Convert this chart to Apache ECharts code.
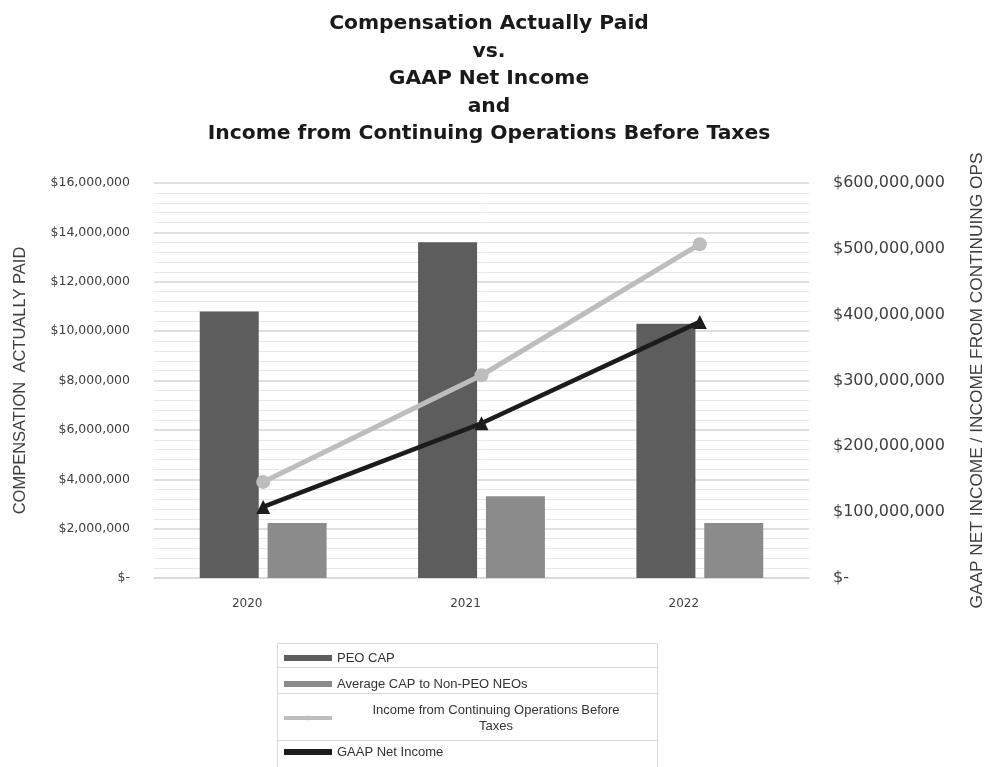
<!DOCTYPE html>
<html>
<head>
<meta charset="utf-8">
<script src="https://cdn.jsdelivr.net/npm/echarts@6/dist/echarts.min.js"></script>
<style>html,body{margin:0;padding:0;background:#fff}#c{width:985px;height:767px}</style>
</head>
<body>
<div id="c"></div>
<script>
const years = ['2020', '2021', '2022'];
const peoCap = [10800000, 13600000, 10300000];
const avgNonPeoCap = [2230000, 3310000, 2230000];
const incomeContOps = [146000000, 308000000, 507000000];
const gaapNetIncome = [108000000, 235000000, 389000000];

const seriesNames = ['PEO CAP', 'Average CAP to Non-PEO NEOs', 'Income from Continuing Operations Before Taxes', 'GAAP Net Income'];

function money(v) {
  if (v === 0) return '$-';
  return '$' + v.toLocaleString('en-US');
}

const chart = echarts.init(document.getElementById('c'));
chart.setOption({
  backgroundColor: '#ffffff',
  animation: false,
  title: {
    text: 'Compensation Actually Paid\nvs.\nGAAP Net Income\nand\nIncome from Continuing Operations Before Taxes',
    left: 484,
    top: 5,
    textAlign: 'center',
    textStyle: { fontFamily: 'DejaVu Sans', fontWeight: 'bold', fontSize: 20.3, lineHeight: 27.5, color: '#1a1a1a' }
  },
  grid: { left: 154, right: 176, top: 183, bottom: 189, outerBoundsMode: 'none', containLabel: false },
  legend: {
    orient: 'vertical',
    left: 282,
    top: 650,
    padding: 0,
    itemWidth: 48,
    itemHeight: 6,
    itemGap: 10,
    data: [
      { name: seriesNames[0], icon: 'rect' },
      { name: seriesNames[1], icon: 'rect' },
      { name: seriesNames[2], lineStyle: { width: 4 }, itemStyle: { color: '#bdbdbd' } },
      { name: seriesNames[3], icon: 'rect', itemStyle: { color: '#1c1c1c' } }
    ],
    formatter: function (n) {
      if (n === seriesNames[2]) return '{a|Income from Continuing Operations Before}\n{a|Taxes}';
      return n;
    },
    textStyle: {
      fontFamily: 'Liberation Sans', fontSize: 13, color: '#333', lineHeight: 16,
      rich: { a: { width: 318, align: 'center', fontFamily: 'Liberation Sans', fontSize: 13, color: '#333', lineHeight: 16 } }
    }
  },
  graphic: [
    { type: 'rect', shape: { x: 277.5, y: 643.5, width: 380, height: 130 }, style: { fill: 'none', stroke: '#d9d9d9', lineWidth: 1 }, silent: true },
    { type: 'line', shape: { x1: 277.5, y1: 667.5, x2: 657.5, y2: 667.5 }, style: { stroke: '#d9d9d9', lineWidth: 1 }, silent: true },
    { type: 'line', shape: { x1: 277.5, y1: 693.5, x2: 657.5, y2: 693.5 }, style: { stroke: '#d9d9d9', lineWidth: 1 }, silent: true },
    { type: 'line', shape: { x1: 277.5, y1: 740.5, x2: 657.5, y2: 740.5 }, style: { stroke: '#d9d9d9', lineWidth: 1 }, silent: true }
  ],
  xAxis: {
    type: 'category',
    data: years,
    axisLine: { show: true, lineStyle: { color: '#d9d9d9', width: 1.5 } },
    axisTick: { show: false },
    axisLabel: { margin: 20, padding: [0, 32, 0, 0], fontFamily: 'DejaVu Sans', fontSize: 12, color: '#404040' }
  },
  yAxis: [
    {
      type: 'value',
      min: 0, max: 16000000, interval: 2000000,
      name: 'COMPENSATION  ACTUALLY PAID',
      nameLocation: 'middle',
      nameGap: 125,
      nameTextStyle: { fontFamily: 'Liberation Sans', fontSize: 16.5, color: '#404040' },
      axisLine: { show: false },
      axisTick: { show: false },
      axisLabel: { margin: 24, formatter: money, fontFamily: 'DejaVu Sans', fontSize: 12.5, color: '#404040' },
      splitLine: { show: true, lineStyle: { color: '#d4d4d4', width: 1.5 } },
      minorTick: { show: false, splitNumber: 5 },
      minorSplitLine: { show: true, lineStyle: { color: '#e8e8e8', width: 1 } }
    },
    {
      type: 'value',
      min: 0, max: 600000000, interval: 100000000,
      name: 'GAAP NET INCOME / INCOME FROM CONTINUING OPS',
      nameLocation: 'middle',
      nameGap: 160,
      nameTextStyle: { fontFamily: 'Liberation Sans', fontSize: 17.3, color: '#404040' },
      axisLine: { show: false },
      axisTick: { show: false },
      axisLabel: { margin: 24, formatter: money, fontFamily: 'DejaVu Sans', fontSize: 16, color: '#404040' },
      splitLine: { show: false }
    }
  ],
  series: [
    { name: seriesNames[0], type: 'bar', data: peoCap, barWidth: 59, barGap: '15%', itemStyle: { color: '#5d5d5d' } },
    { name: seriesNames[1], type: 'bar', data: avgNonPeoCap, barWidth: 59, barGap: '15%', itemStyle: { color: '#8b8b8b' } },
    { name: seriesNames[2], type: 'line', yAxisIndex: 1, data: incomeContOps, symbol: 'circle', symbolSize: 14,
      lineStyle: { color: '#bdbdbd', width: 5 }, itemStyle: { color: '#bdbdbd' } },
    { name: seriesNames[3], type: 'line', yAxisIndex: 1, data: gaapNetIncome, symbol: 'triangle', symbolSize: 14,
      lineStyle: { color: '#1c1c1c', width: 4.5 }, itemStyle: { color: '#1c1c1c' } }
  ]
});
</script>
</body>
</html>
